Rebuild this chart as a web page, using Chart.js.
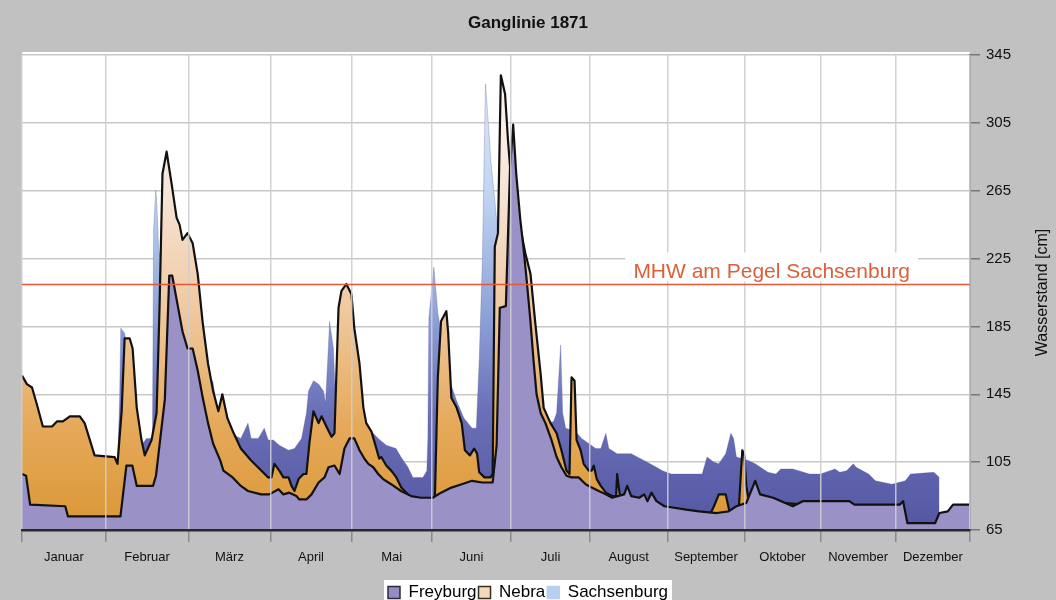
<!DOCTYPE html>
<html>
<head>
<meta charset="utf-8">
<script src="https://cdn.jsdelivr.net/npm/chart.js@4/dist/chart.umd.min.js"></script>
<style>
html,body{margin:0;padding:0;background:#c1c1c1;}
#wrap{width:1056px;height:600px;}
</style>
</head>
<body>
<div id="wrap"><canvas id="c" width="1056" height="600"></canvas></div>
<script>
// ---------------- data ----------------
const chartTitle = 'Ganglinie 1871';
const months = ['Januar','Februar','März','April','Mai','Juni','Juli','August','September','Oktober','November','Dezember'];
const monthStartDays = [0,31,59,90,120,151,181,212,243,273,304,334,365];
const yTicks = [65,105,145,185,225,265,305,345];
const mhwLevel = 210;
const mhwLabel = 'MHW am Pegel Sachsenburg';
const yTitle = 'Wasserstand [cm]';
const seriesNames = ['Freyburg','Nebra','Sachsenburg'];

const freyburgDays = [0,1.5,3,16,17,36,38,40,41.5,47,48,51,52.5,53.5,55.3,57,58.7,60.6,62.5,64.4,66.4,68.3,71,72.2,75.7,78.8,81.5,86.5,89.6,93,94.8,97,99.6,100.7,103.3,105.2,107.8,110,111.5,113.7,115.6,117.4,119.3,121.1,123.1,125,126.5,128.4,130.3,132.2,135.3,139.1,143,146.8,151.4,154.5,158.4,162.3,166.2,170.1,174,175.5,176.7,179,180.6,181.8,183,184.6,185.8,187,188.6,189.8,191,192.6,194.5,196.9,198.9,200.8,202.8,204.8,207.6,210.4,212.8,215.6,218.4,220.9,225.7,226.9,228.5,231.7,233.7,235,236.6,238.6,241.8,250.3,255.3,262.2,266.8,269.9,273.8,277.4,279.4,284.7,292.7,296.8,315.5,317.5,335.8,337.1,338.9,350.4,352.2,355.7,357.9,365];
const freyburgLevels = [98,97,80,79,73,73,103,103,91,91,97,142,215,215,198,182,172,172,159,143,128,116,106,100,96,91,88,86,86,89,86,87,85,83,83,86,93,96,102,103,98,113,119,119,112,107,104,102,98,95,92,88,85,84,84,87,90,92,94,93,93,115,196,197,279,304,275,248,232,214,188,165,145,134,128,118,108,102,97,96,96,92,90,88,86,84,86,91,85,84,86,82,87,82,79,77,76,75,76,79,81,94,86,84,79,82,82,80,80,82,69,69,75,76,80,80];

const nebraDays = [0,1.8,3.7,5.5,7.7,11.1,12.9,15.1,17.7,21.4,23.2,26.9,34,35,36.4,37.4,39.1,40.1,41.5,43.1,44.2,46.5,48.2,49.2,50.2,51.6,53.3,55,56,57,58.7,60.6,62.5,64.4,66.4,68.3,70.3,71.8,73.7,76.1,78.8,82.7,89.2,90.4,91.5,93.3,94.8,96.7,97.8,98.9,100.4,102.2,103.3,104.4,105.9,107.8,108.9,110.7,112.6,113.7,115.2,116.3,118.1,120,121.1,123.1,124.6,125.7,127.7,129.6,130.7,131.5,133.4,135.3,137.3,139.2,143,151.4,152.2,153.3,154.5,156.5,157.2,158.4,160.4,162.3,163.5,165.4,167,168.1,168.9,170.9,173.2,174,174.8,176,177.1,178.7,179.8,181,182.6,184.6,186.6,188.6,190.5,192.6,193.8,196.5,198.9,200.8,202.8,204,204.8,206,206.8,208.4,209.6,211.6,212.8,213.6,214.8,216.4,218.4,220.9,222.5,222.9,224.1,227.7,235.8,245.7,259.2,261.1,263,265.7,267.3,270.8,272.2,273,273.8,275,280.6,296.8,316.3,335.8,338.9,350.4,352.2,365];
const nebraLevels = [156,151,149,139,126,126,129,129,132,132,128,109,108,104,135,178,178,172,137,118,109,118,134,196,275,288,269,249,245,236,240,234,216,187,163,147,135,145,131,122,113,106,96,96,104,100,96,96,91,88,95,98,98,116,135,128,132,126,120,122,196,206,210,204,184,163,137,128,123,113,107,108,103,100,96,90,84,83,84,155,188,194,181,143,137,128,112,109,113,110,99,96,96,98,232,240,333,322,295,271,255,243,228,216,187,157,137,128,122,112,100,98,155,153,118,112,104,100,100,103,95,91,87,85,85,98,84,82,80,75,73,79,86,86,75,77,112,109,91,80,82,80,79,79,67,67,74,79];

const sachsenburgDays = [0,10.3,25,34,35,35.7,36.1,37.4,38.1,39.4,41.1,43.1,44.8,46.8,47.2,47.9,48.2,48.9,49.9,51.9,55.3,58.7,62.5,65.6,68.3,70.3,71.8,73.3,76.1,78.8,81.5,82.7,85.4,87.7,89.2,91.1,93.3,96.7,98.9,101.5,103.3,104.1,105.9,107.8,109.6,110.4,111.9,113.3,114.1,116.3,120,123.8,126.9,128.4,130.3,133.4,137.2,139.1,141.8,143.7,147.6,149.1,149.5,149.9,151.8,153.3,155.3,158.4,160.4,163.1,166.2,167.8,168.9,170.1,171.3,172.5,173.3,174.8,176,177.9,181.8,185.8,189.8,192.9,195.7,197.7,198.9,200.5,201.3,202.5,206.4,208.8,211.6,214.4,216.4,218.4,219.6,222.9,225.7,228.5,234.9,238.6,241,244.5,256.5,258.4,261.1,263,265.7,267.7,268.8,269.9,274.6,277.4,282.6,285.8,287.8,292.7,299.6,304,309.8,311.7,314.4,317.1,318.2,323.2,325.9,332.5,338,340.2,349.9,352.2];
const sachsenburgLevels = [106,100,94,95,103,141,184,181,174,129,106,115,119,119,242,265,261,230,223,215,209,200,183,159,152,129,132,123,121,119,128,119,119,125,118,118,115,112,113,119,134,147,153,151,147,140,188,172,141,150,147,132,123,122,119,115,113,108,102,96,96,100,119,190,220,193,174,150,141,131,125,125,165,224,328,301,283,259,240,230,212,183,153,131,128,129,134,174,134,125,123,119,116,113,113,122,113,110,110,110,105,102,100,98,98,108,105,104,110,122,119,108,106,104,99,98,101,101,98,98,101,99,100,104,102,98,94,92,94,98,99,96];

// ---------------- helpers ----------------
const FONT = "'Liberation Sans', Arial, sans-serif";
const zip = (xs, ys) => xs.map((x, i) => ({x: x, y: ys[i]}));
const monthMids = months.map((m, i) => (monthStartDays[i] + monthStartDays[i + 1]) / 2);
const boundarySet = new Set(monthStartDays);
const yMin = yTicks[0], yMax = yTicks[yTicks.length - 1];

function vGrad(chart, stops, fallback) {
  const {ctx, chartArea, scales} = chart;
  if (!chartArea || !scales.y) return fallback;
  const g = ctx.createLinearGradient(0, scales.y.getPixelForValue(yMax), 0, scales.y.getPixelForValue(yMin));
  stops.forEach(s => g.addColorStop(s[0], s[1]));
  return g;
}
const nebraStops = [[0,'#fdf9f6'],[0.3,'#f6e3d5'],[0.55,'#efc79c'],[0.78,'#e5a95a'],[1,'#da9734']];
const sachStops = [[0,'#e4effb'],[0.3,'#bed4f0'],[0.55,'#8ea1d7'],[0.75,'#6a70b8'],[1,'#5456a1']];

// Calendar axis: every month gets the same share, with a mild perspective
// foreshortening towards the right like the 3D original.
const PERSPECTIVE = 0.005;
class CalendarScale extends Chart.LinearScale {
  getPixelForValue(v) {
    if (v === null || v === undefined || isNaN(v)) return NaN;
    let k = 0;
    while (k < 11 && v >= monthStartDays[k + 1]) k++;
    const m = k + (v - monthStartDays[k]) / (monthStartDays[k + 1] - monthStartDays[k]);
    const n = 12;
    return this.getPixelForDecimal((m - PERSPECTIVE * m * m) / (n - PERSPECTIVE * n * n));
  }
}
CalendarScale.id = 'calendar';
CalendarScale.defaults = Chart.LinearScale.defaults;
Chart.register(CalendarScale);

const LEGEND_SHIFT = -11;
const decor = {
  id: 'decor',
  afterUpdate(chart) {
    const lg = chart.legend;
    if (!lg) return;
    lg.left += LEGEND_SHIFT;
    lg.right += LEGEND_SHIFT;
    if (lg.legendHitBoxes) lg.legendHitBoxes.forEach(h => { h.left += LEGEND_SHIFT; });
  },
  beforeDraw(chart) {
    const {ctx, chartArea: a, width, height} = chart;
    ctx.save();
    ctx.fillStyle = '#c1c1c1';
    ctx.fillRect(0, 0, width, height);
    ctx.fillStyle = '#ffffff';
    ctx.fillRect(a.left, a.top - 3, a.right - a.left, a.bottom - a.top + 3);
    const lg = chart.legend;
    if (lg && lg.legendHitBoxes && lg.legendHitBoxes.length) {
      let l = Infinity, r = -Infinity, t = Infinity;
      lg.legendHitBoxes.forEach(h => { l = Math.min(l, h.left); r = Math.max(r, h.left + h.width); t = Math.min(t, h.top); });
      ctx.fillStyle = '#ffffff';
      ctx.fillRect(l - 4, t - 4, r - l + 8, height - t + 4);
    }
    ctx.restore();
  },
  afterDraw(chart) {
    const {ctx, chartArea: a, scales} = chart;
    const yy = Math.round(scales.y.getPixelForValue(mhwLevel)) + 0.5;
    ctx.save();
    // MHW line
    ctx.strokeStyle = '#e2583a';
    ctx.lineWidth = 1.6;
    ctx.beginPath(); ctx.moveTo(a.left, yy); ctx.lineTo(a.right, yy); ctx.stroke();
    // MHW label
    ctx.font = '21px ' + FONT;
    ctx.textAlign = 'right';
    ctx.textBaseline = 'alphabetic';
    const tx = a.right - 60;
    const w = ctx.measureText(mhwLabel).width;
    ctx.fillStyle = '#ffffff';
    ctx.fillRect(tx - w - 8, yy - 32, w + 16, 29);
    ctx.fillStyle = '#dc5f3c';
    ctx.fillText(mhwLabel, tx, yy - 7);
    // title
    ctx.font = 'bold 17px ' + FONT;
    ctx.textAlign = 'center';
    ctx.textBaseline = 'middle';
    ctx.fillStyle = '#111111';
    ctx.fillText(chartTitle, 528, 23);
    // y axis title
    ctx.translate(1043, (a.top + a.bottom) / 2);
    ctx.rotate(-Math.PI / 2);
    ctx.font = '16px ' + FONT;
    ctx.fillText(yTitle, 0, 0);
    ctx.restore();
  }
};

const legendColors = [
  {fill: '#958cc4', stroke: '#2a2a3a'},
  {fill: '#f3d9bf', stroke: '#3a3020'},
  {fill: '#b9cff0', stroke: '#b9cff0'}
];

new Chart(document.getElementById('c'), {
  type: 'line',
  data: {
    datasets: [
      {
        label: seriesNames[0],
        data: zip(freyburgDays, freyburgLevels),
        backgroundColor: '#9a91c7',
        borderColor: '#111111',
        borderWidth: 2.2,
        fill: 'start',
        order: 0
      },
      {
        label: seriesNames[1],
        data: zip(nebraDays, nebraLevels),
        backgroundColor: (c) => vGrad(c.chart, nebraStops, '#e8b070'),
        borderColor: '#111111',
        borderWidth: 2.2,
        fill: 'start',
        order: 1
      },
      {
        label: seriesNames[2],
        data: zip(sachsenburgDays, sachsenburgLevels),
        backgroundColor: (c) => vGrad(c.chart, sachStops, '#7a82c4'),
        borderColor: 'rgba(80,84,150,0.5)',
        borderWidth: 0.6,
        fill: 'start',
        order: 2
      }
    ]
  },
  options: {
    responsive: false,
    animation: false,
    devicePixelRatio: 1,
    elements: {
      point: {radius: 0, hoverRadius: 0},
      line: {tension: 0, borderJoinStyle: 'round'}
    },
    layout: {padding: {left: 22, right: 0, top: 55, bottom: -11}},
    plugins: {
      title: {display: false},
      tooltip: {enabled: false},
      legend: {
        position: 'bottom',
        labels: {
          font: {family: FONT, size: 17},
          color: '#111111',
          boxWidth: 12,
          boxHeight: 12,
          padding: 2,
          generateLabels: (chart) => chart.data.datasets.map((ds, i) => ({
            text: ds.label,
            fillStyle: legendColors[i].fill,
            strokeStyle: legendColors[i].stroke,
            lineWidth: 1.5,
            datasetIndex: i,
            hidden: false
          }))
        }
      }
    },
    scales: {
      x: {
        type: 'calendar',
        min: monthStartDays[0],
        max: monthStartDays[monthStartDays.length - 1],
        afterBuildTicks(s) {
          s.ticks = monthStartDays.concat(monthMids).sort((a, b) => a - b).map(v => ({value: v}));
        },
        afterFit(s) { s.height = 52; },
        ticks: {
          autoSkip: false,
          maxRotation: 0,
          padding: 8,
          color: '#111111',
          font: {family: FONT, size: 13},
          callback: (v) => { const i = monthMids.indexOf(v); return i >= 0 ? months[i] : ''; }
        },
        grid: {
          z: 1,
          lineWidth: 1.5,
          tickLength: 12,
          color: (c) => (c.tick && boundarySet.has(c.tick.value)) ? 'rgba(205,205,210,0.9)' : 'rgba(0,0,0,0)',
          tickColor: (c) => (c.tick && boundarySet.has(c.tick.value)) ? '#8a8a8a' : 'rgba(0,0,0,0)'
        },
        border: {display: true, color: '#2a2a2a', width: 2.5, z: 2}
      },
      y: {
        position: 'right',
        min: yMin,
        max: yMax,
        afterBuildTicks(s) { s.ticks = yTicks.map(v => ({value: v})); },
        afterFit(s) { s.width = 86; },
        ticks: {
          padding: 6,
          color: '#111111',
          font: {family: FONT, size: 15}
        },
        grid: {
          color: '#c8c8c8',
          lineWidth: 1.5,
          tickLength: 10,
          tickColor: '#777777'
        },
        border: {display: true, color: '#666666', width: 1.5}
      }
    }
  },
  plugins: [decor]
});
</script>
</body>
</html>
